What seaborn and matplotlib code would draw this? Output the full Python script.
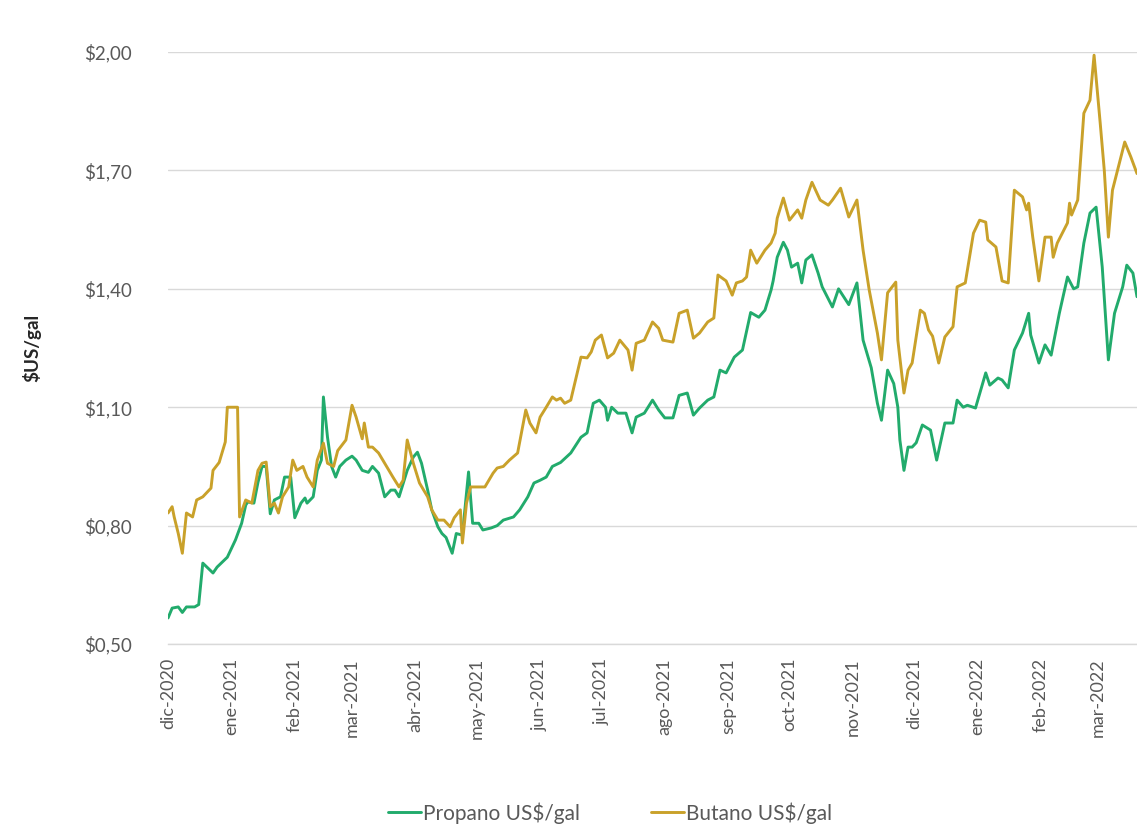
import pandas as pd
import matplotlib
matplotlib.use("Agg")
import matplotlib.pyplot as plt
import seaborn as sns

# Data (days counted from 1 Dec 2020)
start = pd.Timestamp("2020-12-01")

propano_days = [
    0, 2, 5, 7, 9, 13, 15, 17, 18, 22,
    24, 29, 33, 36, 38, 39, 42, 44, 46, 48,
    50, 52, 55, 57, 60, 62, 65, 67, 68, 71,
    73, 75, 76, 78, 80, 82, 84, 87, 90, 92,
    95, 98, 100, 103, 106, 109, 111, 113, 117, 120,
    122, 124, 127, 129, 132, 134, 136, 139, 141, 144,
    147, 149, 152, 154, 158, 161, 164, 169, 172, 176,
    179, 182, 185, 188, 192, 197, 202, 205, 208, 211,
    214, 215, 217, 220, 224, 227, 229, 233, 237, 240,
    243, 247, 250, 254, 257, 260, 264, 267, 270, 273,
    277, 281, 285, 289, 292, 295, 296, 298, 301, 303,
    305, 308, 310, 312, 315, 318, 320, 325, 328, 333,
    337, 340, 344, 347, 349, 352, 355, 357, 358, 360,
    362, 364, 366, 369, 373, 376, 380, 384, 386, 389,
    391, 395, 400, 402, 406, 408, 411, 414, 418, 421,
    422, 426, 429, 432, 436, 440, 443, 445, 448, 451,
    454, 457, 460, 463, 467, 469, 472, 474,
]
propano = [
    0.566, 0.591, 0.594, 0.580, 0.594, 0.594, 0.600, 0.705, 0.700, 0.680,
    0.695, 0.720, 0.764, 0.806, 0.852, 0.860, 0.857, 0.910, 0.950, 0.950,
    0.830, 0.865, 0.873, 0.923, 0.923, 0.820, 0.857, 0.870, 0.857, 0.873,
    0.940, 0.966, 1.126, 1.024, 0.950, 0.923, 0.950, 0.966, 0.976, 0.966,
    0.940, 0.935, 0.950, 0.933, 0.873, 0.890, 0.890, 0.873, 0.940, 0.974,
    0.986, 0.958, 0.890, 0.840, 0.797, 0.780, 0.770, 0.730, 0.780, 0.776,
    0.936, 0.806, 0.806, 0.789, 0.794, 0.800, 0.814, 0.822, 0.840, 0.873,
    0.908, 0.915, 0.923, 0.950, 0.960, 0.984, 1.024, 1.035, 1.110, 1.118,
    1.100, 1.067, 1.100, 1.085, 1.085, 1.035, 1.075, 1.085, 1.118, 1.093,
    1.073, 1.073, 1.130, 1.136, 1.080, 1.098, 1.118, 1.126, 1.194, 1.187,
    1.227, 1.245, 1.340, 1.328, 1.346, 1.397, 1.420, 1.480, 1.518, 1.498,
    1.455, 1.465, 1.415, 1.473, 1.486, 1.440, 1.405, 1.354, 1.400, 1.360,
    1.415, 1.270, 1.200, 1.110, 1.067, 1.194, 1.160, 1.100, 1.017, 0.940,
    0.999, 0.999, 1.010, 1.055, 1.042, 0.966, 1.060, 1.060, 1.118, 1.100,
    1.105, 1.098, 1.187, 1.156, 1.174, 1.169, 1.149, 1.245, 1.288, 1.338,
    1.283, 1.212, 1.258, 1.232, 1.338, 1.430, 1.400, 1.405, 1.516, 1.592,
    1.607, 1.455, 1.220, 1.338, 1.405, 1.460, 1.440, 1.380,
]

butano_days = [
    0, 2, 3, 5, 7, 9, 12, 14, 17, 21,
    22, 25, 28, 29, 34, 35, 38, 41, 44, 46,
    48, 50, 52, 54, 56, 59, 61, 63, 66, 68,
    71, 73, 76, 78, 81, 83, 87, 90, 92, 95,
    96, 98, 100, 103, 106, 110, 113, 115, 117, 120,
    123, 127, 129, 132, 135, 138, 140, 143, 144, 146,
    148, 150, 155, 159, 161, 164, 167, 171, 175, 177,
    180, 182, 185, 188, 190, 192, 194, 197, 202, 205,
    207, 209, 212, 215, 218, 221, 225, 227, 229, 233,
    237, 240, 242, 247, 250, 254, 257, 260, 264, 267,
    269, 273, 276, 278, 281, 283, 285, 288, 292, 295,
    297, 298, 301, 304, 308, 310, 312, 315, 319, 323,
    325, 329, 333, 337, 340, 343, 347, 349, 352, 356,
    357, 360, 362, 364, 368, 370, 372, 374, 377, 380,
    384, 386, 390, 394, 397, 400, 401, 405, 408, 411,
    414, 418, 420, 421, 423, 426, 429, 432, 433, 435,
    440, 441, 442, 445, 448, 451, 453, 456, 458, 460,
    462, 468, 471, 474,
]
butano = [
    0.832, 0.848, 0.822, 0.780, 0.730, 0.832, 0.822, 0.865, 0.873, 0.895,
    0.940, 0.960, 1.012, 1.100, 1.100, 0.822, 0.865, 0.857, 0.940, 0.958,
    0.961, 0.848, 0.857, 0.832, 0.873, 0.898, 0.966, 0.940, 0.950, 0.923,
    0.898, 0.966, 1.009, 0.958, 0.950, 0.990, 1.017, 1.105, 1.075, 1.020,
    1.060, 0.999, 0.999, 0.984, 0.958, 0.923, 0.898, 0.915, 1.017, 0.958,
    0.908, 0.873, 0.840, 0.814, 0.814, 0.797, 0.820, 0.840, 0.756, 0.857,
    0.898, 0.898, 0.898, 0.933, 0.946, 0.950, 0.966, 0.984, 1.093, 1.060,
    1.035, 1.075, 1.100, 1.126, 1.118, 1.123, 1.110, 1.118, 1.227, 1.225,
    1.240, 1.270, 1.283, 1.225, 1.237, 1.270, 1.245, 1.194, 1.262, 1.270,
    1.316, 1.300, 1.270, 1.265, 1.338, 1.346, 1.275, 1.288, 1.316, 1.326,
    1.435, 1.420, 1.384, 1.415, 1.420, 1.430, 1.498, 1.465, 1.498, 1.516,
    1.541, 1.579, 1.630, 1.574, 1.600, 1.579, 1.625, 1.670, 1.625, 1.612,
    1.625, 1.655, 1.582, 1.625, 1.498, 1.397, 1.288, 1.220, 1.390, 1.417,
    1.270, 1.136, 1.194, 1.212, 1.346, 1.338, 1.296, 1.280, 1.212, 1.278,
    1.304, 1.405, 1.415, 1.541, 1.574, 1.569, 1.524, 1.506, 1.420, 1.415,
    1.650, 1.633, 1.600, 1.617, 1.531, 1.420, 1.531, 1.531, 1.480, 1.516,
    1.567, 1.617, 1.587, 1.625, 1.845, 1.878, 1.992, 1.820, 1.700, 1.531,
    1.650, 1.772, 1.734, 1.692,
]

month_labels = [
    "dic-2020", "ene-2021", "feb-2021", "mar-2021", "abr-2021", "may-2021",
    "jun-2021", "jul-2021", "ago-2021", "sep-2021", "oct-2021", "nov-2021",
    "dic-2021", "ene-2022", "feb-2022", "mar-2022",
]
y_ticks = [0.50, 0.80, 1.10, 1.40, 1.70, 2.00]

propano_dates = start + pd.to_timedelta(propano_days, unit="D")
butano_dates = start + pd.to_timedelta(butano_days, unit="D")
month_ticks = pd.date_range("2020-12-01", periods=len(month_labels), freq="MS")

sns.set_style("white")
plt.rcParams["font.family"] = ["Lato", "DejaVu Sans"]

fig = plt.figure(figsize=(11.37, 8.26), dpi=100)
ax = fig.add_axes([0.1478, 0.2203, 0.8522, 0.7167])

green = "#22ab6c"
gold = "#c9a12a"
sns.lineplot(x=propano_dates, y=propano, ax=ax, color=green, linewidth=2.1,
             label="Propano US$/gal")
sns.lineplot(x=butano_dates, y=butano, ax=ax, color=gold, linewidth=2.1,
             label="Butano US$/gal")

ax.set_ylim(0.5, 2.0)
ax.set_xlim(start, start + pd.Timedelta(days=474))
ax.set_yticks(y_ticks)
ax.set_yticklabels(["$" + f"{v:.2f}".replace(".", ",") for v in y_ticks],
                   color="#595959", fontsize=13.5)
ax.set_xticks(month_ticks)
ax.set_xticklabels(month_labels, rotation=90, color="#595959", fontsize=13)
ax.tick_params(axis="both", length=0)
ax.tick_params(axis="y", pad=26)
ax.tick_params(axis="x", pad=10)

ax.grid(axis="y", color="#d9d9d9", linewidth=1.0)
ax.set_axisbelow(True)
for side in ["top", "right", "left"]:
    ax.spines[side].set_visible(False)
ax.spines["bottom"].set_color("#d9d9d9")
ax.spines["bottom"].set_linewidth(1.0)

ax.set_ylabel("$US/gal", fontsize=13.5, fontweight="bold", color="#262626",
              labelpad=31)
ax.set_xlabel("")

ax.get_legend().remove()
handles, labels = ax.get_legend_handles_labels()
fig.legend(handles, labels, loc="center", bbox_to_anchor=(0.5365, 0.016),
           ncol=2, frameon=False, fontsize=15, handlelength=1.6,
           handletextpad=0.1, columnspacing=3.4, labelcolor="#595959")

fig.savefig("out.png", dpi=100)
